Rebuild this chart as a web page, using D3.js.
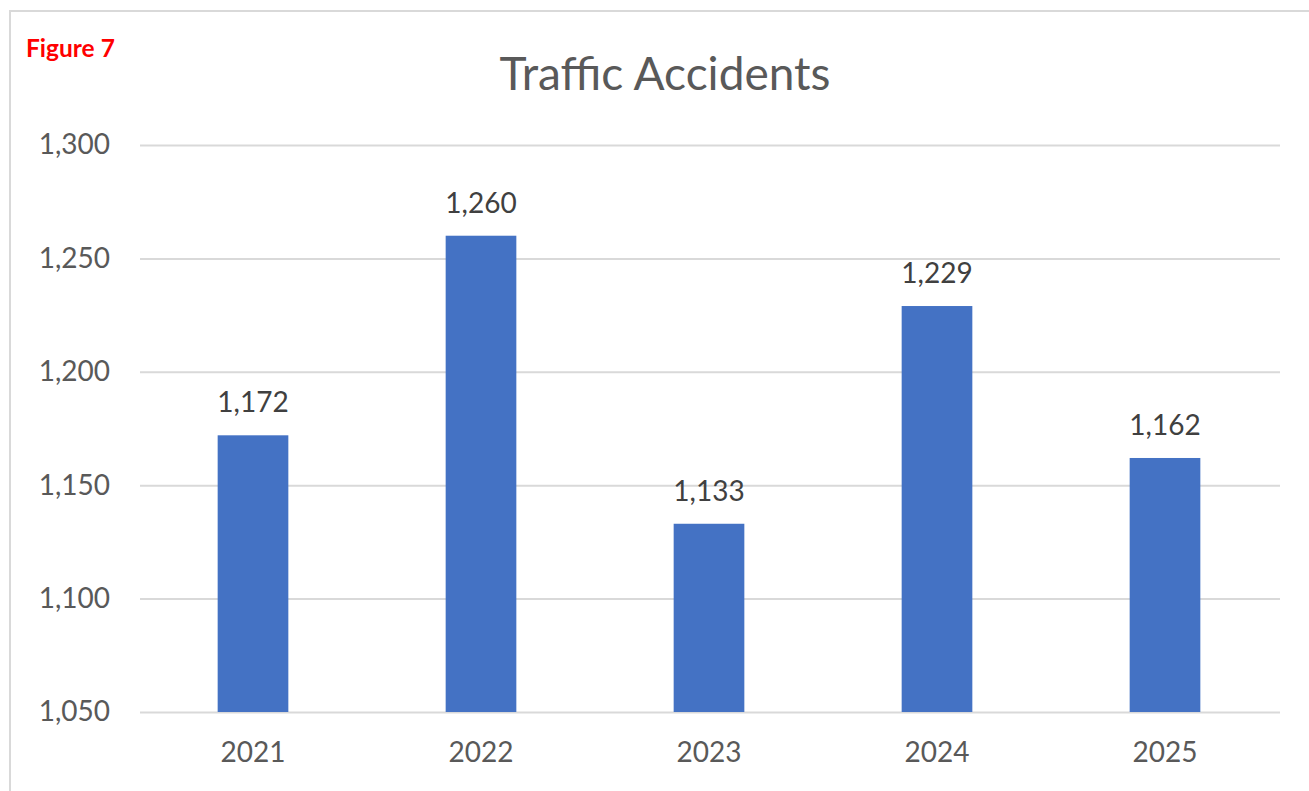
<!DOCTYPE html>
<html>
<head>
<meta charset="utf-8">
<script src="https://cdn.jsdelivr.net/npm/d3@7"></script>
<style>
  body { margin: 0; background: #fff; }
  svg text { font-family: Lato, "Open Sans", sans-serif; }
</style>
</head>
<body>
<svg id="canvas" width="1309" height="791"></svg>
<script>
// data
let years = ['2021', '2022', '2023', '2024', '2025']
let accidents = [1172, 1260, 1133, 1229, 1162]
let yTicks = [1050, 1100, 1150, 1200, 1250, 1300]

let canvas = d3.select('#canvas')

// chart frame
canvas.append('rect')
    .attr('x', 10).attr('y', 11)
    .attr('width', 1320).attr('height', 800)
    .attr('fill', 'none')
    .attr('stroke', '#d9d9d9')
    .attr('stroke-width', 2)

canvas.append('text')
    .attr('x', 26).attr('y', 57)
    .attr('fill', '#ff0000')
    .attr('font-weight', 'bold')
    .attr('font-size', 24.5)
    .text('Figure 7')

canvas.append('text')
    .attr('x', 665).attr('y', 90)
    .attr('text-anchor', 'middle')
    .attr('fill', '#595959')
    .attr('font-size', 46)
    .text('Traffic Accidents')

let xScale = d3.scaleBand()
    .domain(years)
    .range([139, 1279])
    .paddingInner(0.69)
    .paddingOuter(0.345)

let yScale = d3.scaleLinear()
    .domain([1050, 1300])
    .range([712, 145])

// gridlines + y labels
let yAxis = d3.axisLeft(yScale)
    .tickValues(yTicks)
    .tickFormat(d3.format(','))
    .tickSize(-1140)
    .tickPadding(30)

let yG = canvas.append('g')
    .attr('transform', 'translate(140,0)')
    .call(yAxis)
yG.select('.domain').remove()
yG.selectAll('line').attr('stroke', '#d9d9d9').attr('stroke-width', 2)
yG.selectAll('text')
    .attr('fill', '#595959')
    .attr('font-size', 28)
    .attr('font-family', 'Lato, sans-serif')

// x labels
let xAxis = d3.axisBottom(xScale).tickSize(0).tickPadding(30)
let xG = canvas.append('g')
    .attr('transform', 'translate(0,712)')
    .call(xAxis)
xG.select('.domain').remove()
xG.selectAll('text')
    .attr('fill', '#595959')
    .attr('font-size', 28)
    .attr('font-family', 'Lato, sans-serif')

// bars
canvas.selectAll('.bar')
    .data(accidents)
    .enter()
    .append('rect')
    .attr('class', 'bar')
    .attr('x', (d, i) => xScale(years[i]))
    .attr('y', (d) => yScale(d))
    .attr('width', xScale.bandwidth())
    .attr('height', (d) => yScale(1050) - yScale(d))
    .attr('fill', '#4472c4')

// data labels
canvas.selectAll('.label')
    .data(accidents)
    .enter()
    .append('text')
    .attr('class', 'label')
    .attr('x', (d, i) => xScale(years[i]) + xScale.bandwidth() / 2)
    .attr('y', (d) => yScale(d) - 23)
    .attr('text-anchor', 'middle')
    .attr('fill', '#404040')
    .attr('font-size', 28)
    .text((d) => d3.format(',')(d))
</script>
</body>
</html>
